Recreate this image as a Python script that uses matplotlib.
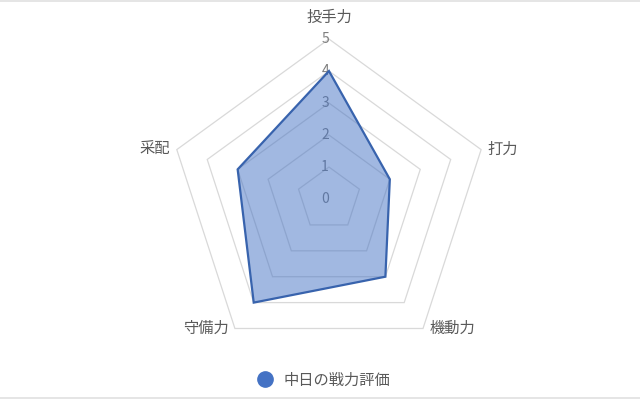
import numpy as np
import matplotlib.pyplot as plt
from matplotlib.lines import Line2D

plt.rcParams['font.family'] = ['Noto Sans CJK JP', 'DejaVu Sans']

# === data ===
categories = ["投手力", "打力", "機動力", "守備力", "采配"]
values = [4, 2, 3, 4, 3]
levels = [0, 1, 2, 3, 4, 5]
series_name = "中日の戦力評価"

# === geometry ===
n = len(categories)
angles = np.pi / 2 - 2 * np.pi * np.arange(n) / n
ca, sa = np.cos(angles), np.sin(angles)

fig = plt.figure(figsize=(6.4, 4.0), dpi=100)
ax = fig.add_axes([0, 0, 1, 1])
ax.set_xlim(-10.28, 9.72)
ax.set_ylim(-6.28, 6.22)
ax.axis('off')

# grid pentagons
for lv in levels[1:]:
    ax.fill(lv * ca, lv * sa, facecolor='none', edgecolor='#d9d9d9', lw=0.9, zorder=1)

# level labels
for lv in levels:
    ax.text(-0.12, lv, str(lv), ha='center', va='center', fontsize=10,
            color='#7f7f7f', zorder=2)

# series
v = np.array(values, dtype=float)
ax.fill(v * ca, v * sa, facecolor='#4472c4', alpha=0.5, zorder=3)
ax.fill(v * ca, v * sa, facecolor='none', edgecolor='#3863ad', lw=1.6, zorder=4)

# category labels
rmax = levels[-1]
for name, c, s in zip(categories, ca, sa):
    x, y = rmax * c, rmax * s
    if abs(c) < 0.1:
        ax.text(x, y + 0.4, name, ha='center', va='bottom', fontsize=11, color='#595959')
    elif c > 0:
        ax.text(x + 0.2, y, name, ha='left', va='center', fontsize=11, color='#595959')
    else:
        ax.text(x - 0.2, y, name, ha='right', va='center', fontsize=11, color='#595959')

# legend
handle = Line2D([], [], marker='o', linestyle='none', markersize=11,
                markerfacecolor='#4472c4', markeredgecolor='#4472c4')
fig.legend([handle], [series_name], loc='center', bbox_to_anchor=(0.5, 0.05),
           frameon=False, fontsize=11, labelcolor='#595959', handletextpad=0.2)

# faint frame lines top/bottom
fig.add_artist(Line2D([0, 1], [0.998, 0.998], color='#e0e0e0', lw=1.2))
fig.add_artist(Line2D([0, 1], [0.004, 0.004], color='#e0e0e0', lw=1.2))

fig.savefig("out.png", dpi=100)
